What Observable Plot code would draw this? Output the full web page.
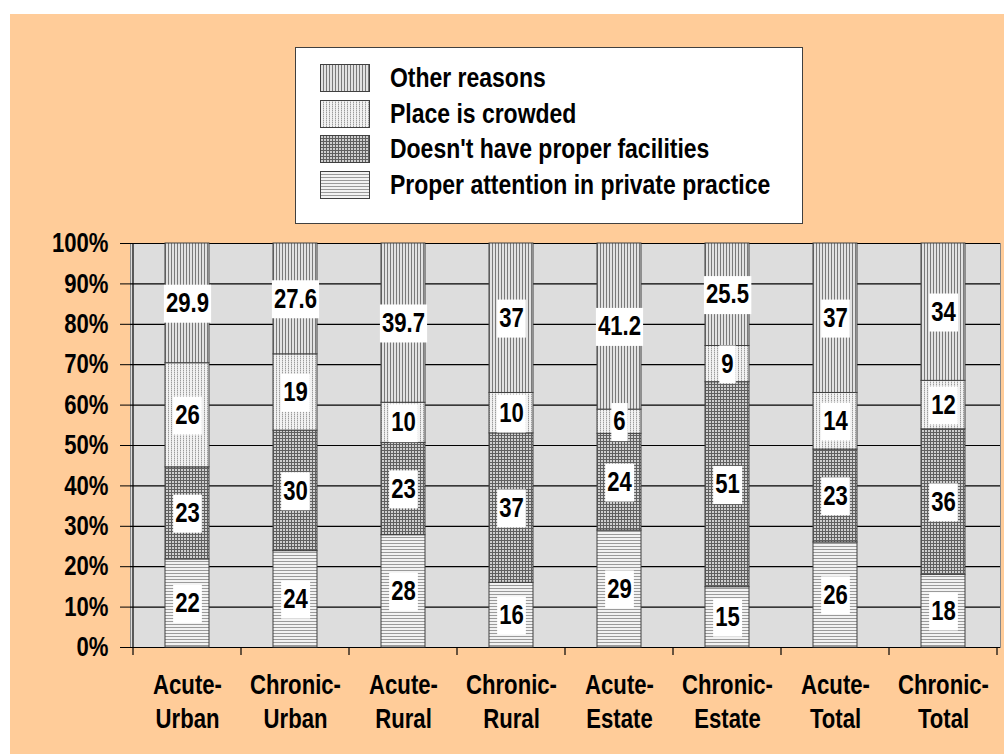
<!DOCTYPE html>
<html>
<head>
<meta charset="utf-8">
<script src="https://cdn.jsdelivr.net/npm/d3@7"></script>
<script src="https://cdn.jsdelivr.net/npm/@observablehq/plot@0.6"></script>
<style>
  html, body { margin: 0; padding: 0; background: #ffffff; }
  #page { position: relative; width: 1004px; height: 754px; overflow: hidden; }
  #bg { position: absolute; left: 10px; top: 14px; width: 994px; height: 740px; background: #FFCC99; }
  #legend { position: absolute; left: 295px; top: 47px; width: 506px; height: 175px; background: #ffffff; border: 1px solid #404040; }
  .row { position: absolute; left: 24px; height: 28px; display: flex; align-items: center; }
  .row svg { display: block; flex: none; }
  .row span { display: inline-block; margin-left: 20px; font-family: 'Liberation Sans', Arial, sans-serif; font-weight: bold; font-size: 28px; color: #000; white-space: nowrap; transform: scaleX(0.82); transform-origin: left center; }
  #chart { position: absolute; left: 0; top: 228px; }
</style>
</head>
<body>
<svg width="0" height="0" style="position:absolute">
  <defs>
    <pattern id="pOther" patternUnits="userSpaceOnUse" width="3" height="3">
      <rect width="3" height="3" fill="#e2e2e2"></rect>
      <rect x="0" y="0" width="1" height="3" fill="#7a7a7a"></rect>
    </pattern>
    <pattern id="pCrowded" patternUnits="userSpaceOnUse" width="3" height="2">
      <rect width="3" height="2" fill="#f2f2f2"></rect>
      <rect x="0" y="0" width="1" height="1" fill="#9c9c9c"></rect>
      <rect x="0" y="1" width="1" height="1" fill="#cfcfcf"></rect>
    </pattern>
    <pattern id="pFacilities" patternUnits="userSpaceOnUse" width="3" height="3">
      <rect width="3" height="3" fill="#cfcfcf"></rect>
      <rect x="0" y="0" width="1" height="3" fill="#606060"></rect>
      <rect x="0" y="0" width="3" height="1" fill="#606060"></rect>
    </pattern>
    <pattern id="pProper" patternUnits="userSpaceOnUse" width="3" height="3">
      <rect width="3" height="3" fill="#f2f2f2"></rect>
      <rect x="0" y="0" width="3" height="1" fill="#9a9a9a"></rect>
    </pattern>
  </defs>
</svg>
<div id="page">
  <div id="bg"></div>
  <div id="legend"></div>
  <div id="chart"></div>
</div>
<script>
// ---- data ----
const categories = ["Acute-Urban", "Chronic-Urban", "Acute-Rural", "Chronic-Rural", "Acute-Estate", "Chronic-Estate", "Acute-Total", "Chronic-Total"];
const series = ["Proper attention in private practice", "Doesn't have proper facilities", "Place is crowded", "Other reasons"];
const properAttention = [22, 24, 28, 16, 29, 15, 26, 18];
const properFacilities = [23, 30, 23, 37, 24, 51, 23, 36];
const placeCrowded = [26, 19, 10, 10, 6, 9, 14, 12];
const otherReasons = [29.9, 27.6, 39.7, 37, 41.2, 25.5, 37, 34];
const yTicks = [0, 0.1, 0.2, 0.3, 0.4, 0.5, 0.6, 0.7, 0.8, 0.9, 1];
const legendOrder = ["Other reasons", "Place is crowded", "Doesn't have proper facilities", "Proper attention in private practice"];

const patterns = ["url(#pProper)", "url(#pFacilities)", "url(#pCrowded)", "url(#pOther)"];
const valueArrays = [properAttention, properFacilities, placeCrowded, otherReasons];

const rows = [];
categories.forEach((c, i) => {
  series.forEach((s, j) => rows.push({category: c, series: s, value: valueArrays[j][i]}));
});

// ---- legend ----
const legend = document.getElementById("legend");
legendOrder.forEach((s, k) => {
  const row = document.createElement("div");
  row.className = "row";
  row.style.top = (16 + k * 35.7) + "px";
  const pat = patterns[series.indexOf(s)];
  row.innerHTML = `<svg width="50" height="28"><rect x="0.5" y="0.5" width="49" height="27" fill="${pat}" stroke="#404040"></rect></svg><span>${s}</span>`;
  legend.appendChild(row);
});

// ---- chart ----
const FONT = "'Liberation Sans', Arial, sans-serif";
const plot = Plot.plot({
  width: 1004,
  height: 526,
  marginTop: 15,
  marginBottom: 107,
  marginLeft: 130,
  marginRight: 4,
  style: {fontFamily: FONT, fontSize: "27px", fontWeight: "bold", background: "transparent", color: "black"},
  x: {domain: categories, padding: 0, label: null},
  y: {domain: [0, 1], label: null},
  color: {type: "ordinal", domain: series, range: patterns},
  marks: [
    Plot.frame({fill: "#DDDDDD", stroke: "#888888"}),
    Plot.ruleY(yTicks, {stroke: "#000000", strokeWidth: 1.2}),
    Plot.barY(rows, {x: "category", y: "value", fill: "series", stroke: "#404040", strokeWidth: 1, offset: "normalize", insetLeft: 32, insetRight: 32}),
    Plot.text(rows, Plot.stackY({x: "category", y: "value", text: d => String(d.value), offset: "normalize", fontSize: 27, fill: "#000000"})),
    Plot.axisY({ticks: yTicks, tickFormat: d3.format(".0%"), tickSize: 10, tickPadding: 12, fontSize: 27, stroke: "#000000", label: null}),
    Plot.axisX({tickFormat: d => d.replace("-", "-\n"), tickSize: 0, tickPadding: 23, fontSize: 27, lineHeight: 1.25, label: null})
  ]
});
document.getElementById("chart").appendChild(plot);

// ---- post-processing: narrow text, label boxes, axis line, category boundary ticks ----
const svg = d3.select(plot);
svg.selectAll("text").each(function () {
  const t = this.getAttribute("transform") || "";
  this.setAttribute("transform", (t + " scale(0.82,1)").trim());
});
svg.selectAll('g[aria-label="text"] text').each(function () {
  const b = this.getBBox();
  const h = 38;
  const cy = b.y + b.height / 2;
  d3.select(this.parentNode).insert("rect", () => this)
    .attr("x", b.x - 2.5)
    .attr("y", cy - h / 2 + 1)
    .attr("width", b.width + 5)
    .attr("height", h)
    .attr("fill", "#ffffff")
    .attr("transform", this.getAttribute("transform"));
});

const xs = plot.scale("x");
const ys = plot.scale("y");
const y0 = ys.apply(0), y1 = ys.apply(1);
const g = svg.append("g").attr("stroke", "#000000").attr("stroke-width", 1.2);
const bounds = categories.map(c => xs.apply(c)).concat([xs.apply(categories[categories.length - 1]) + xs.bandwidth]);
g.append("line").attr("x1", bounds[0]).attr("x2", bounds[0]).attr("y1", y1).attr("y2", y0);
bounds.forEach(bx => {
  g.append("line").attr("x1", bx).attr("x2", bx).attr("y1", y0).attr("y2", y0 + 8);
});
</script>
</body>
</html>
